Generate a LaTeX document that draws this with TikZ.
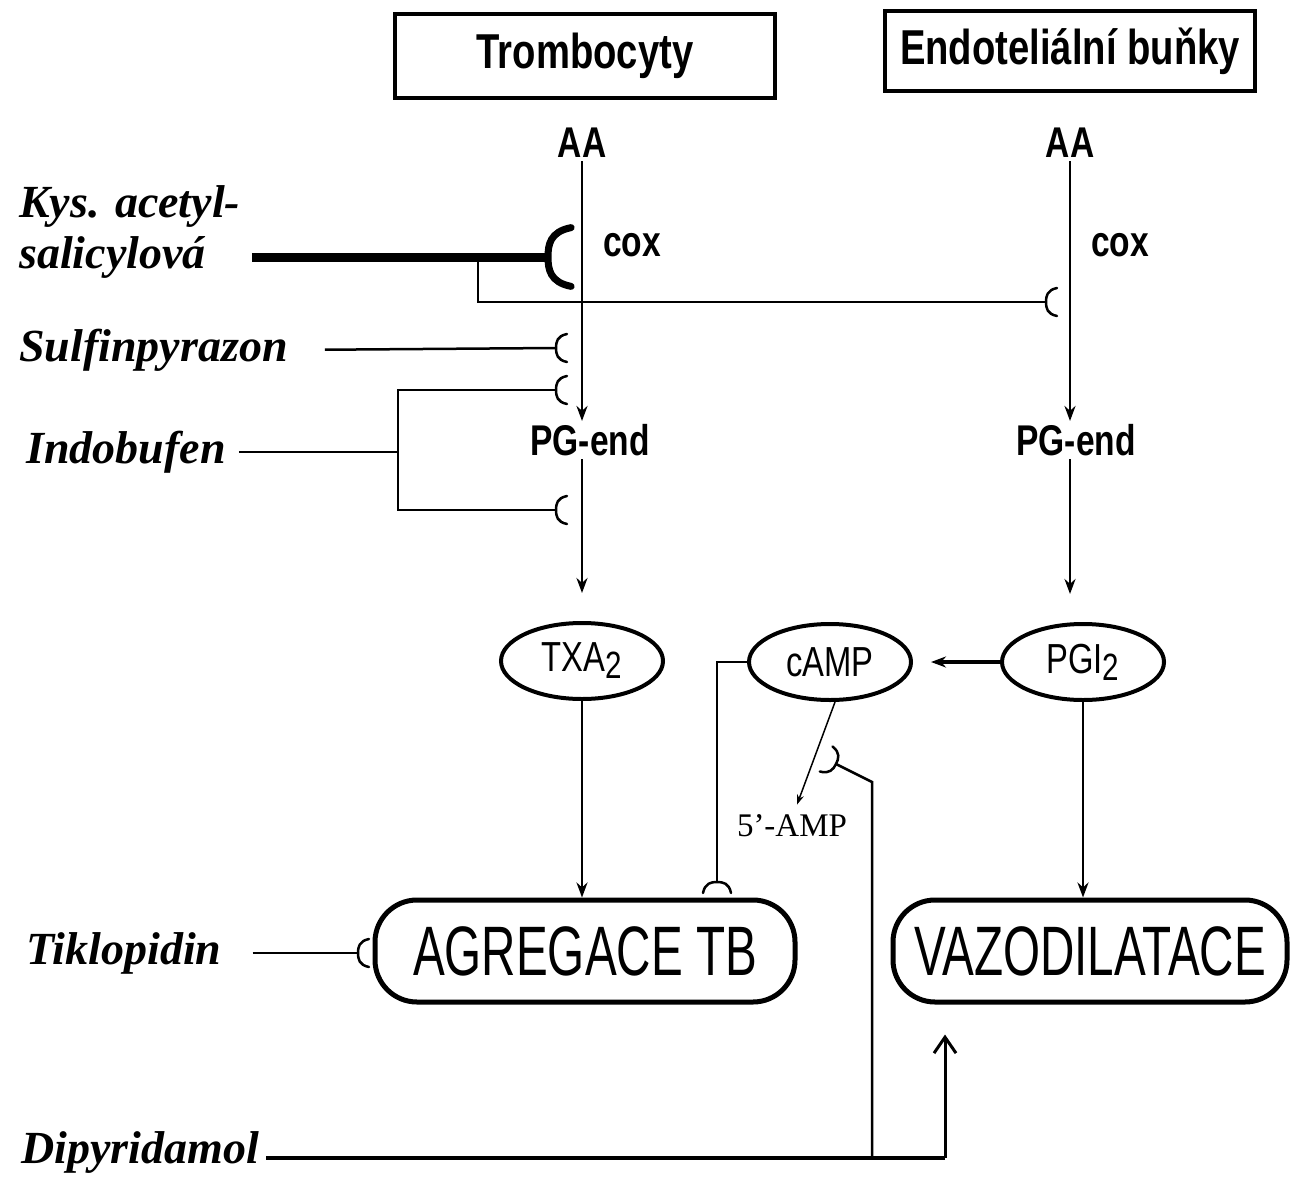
\documentclass[tikz,border=0pt]{standalone}
\usepackage{fontspec}
\setmainfont{Liberation Serif}
\newfontfamily\condsans[FakeStretch=0.78]{Liberation Sans}
\newfontfamily\uzsans[FakeStretch=0.68]{Liberation Sans}
\usetikzlibrary{shapes.geometric, arrows.meta}

\begin{document}
\begin{tikzpicture}[x=1pt, y=-1pt, >={Stealth[length=15pt,width=11pt]}, line width=2.5pt,
  lek/.style={anchor=west, inner sep=0pt, font=\fontsize{46}{48}\selectfont\bfseries\itshape},
  bunka/.style={draw, line width=4.5pt, inner sep=0pt, font=\fontsize{49}{50}\condsans\bfseries},
  popis/.style={inner sep=2pt, font=\fontsize{43}{45}\condsans\bfseries},
  latka/.style={ellipse, draw, line width=4pt, minimum width=162pt, minimum height=76pt, inner sep=0pt, font=\fontsize{42}{44}\condsans},
  efekt/.style={draw, rounded corners=42pt, line width=5pt, minimum height=102pt, inner sep=0pt, font=\fontsize{70}{72}\uzsans},
  blok/.pic={\draw[line cap=round] (11,-14) .. controls (1,-12) and (0,-6) .. (0,0) .. controls (0,6) and (1,12) .. (11,14);}
]
  \useasboundingbox (0,0) rectangle (1292,1188);
  % cell headers and pathway labels
  \node[bunka, minimum width=380pt, minimum height=84pt] (trom) at (585,56) {Trombocyty};
  \node[bunka, minimum width=370pt, minimum height=80pt] (endo) at (1070,51) {Endoteliální buňky};
  \node[popis] (aaL) at (582,143) {AA};
  \node[popis] (aaR) at (1070,143) {AA};
  \node[popis] (coxL) at (632,245) {cox};
  \node[popis] (coxR) at (1120,245) {cox};
  \node[popis] (pgL) at (590,440) {PG-end};
  \node[popis] (pgR) at (1076,440) {PG-end};
  \node[latka] (txa) at (582,661) {TXA\raisebox{-7pt}{\fontsize{38}{38}\selectfont 2}};
  \node[latka] (camp) at (830,662) {cAMP};
  \node[latka] (pgi) at (1083,662) {PGI\raisebox{-7pt}{\fontsize{38}{38}\selectfont 2}};
  \node[efekt, minimum width=420pt] (agr) at (585,951) {AGREGACE TB};
  \node[efekt, minimum width=394pt] (vazo) at (1090,951) {VAZODILATACE};
  \node[font=\fontsize{33}{35}\selectfont, inner sep=1pt] (amp) at (792,826) {5'-AMP};
  % drugs
  \node[lek] (kys1) at (18,207) {Kys. acetyl-};
  \node[lek] (kys2) at (18,257) {salicylová};
  \node[lek] (sulf) at (18,350) {Sulfinpyrazon};
  \node[lek] (indo) at (25,452) {Indobufen};
  \node[lek] (tiklo) at (25,953) {Tiklopidin};
  \node[lek] (dipy) at (20,1152) {Dipyridamol};
  % blocker points
  \coordinate (bKys) at (548,257);
  \coordinate (odb) at (478,257);
  \coordinate (bEndo) at (1046,302);
  \coordinate (bSulf) at (556,348);
  \coordinate (vid) at (398,452);
  \coordinate (bInd1) at (556,390);
  \coordinate (bInd2) at (556,510);
  \coordinate (bTik) at (358,953);
  \coordinate (bAgr) at (717,882);
  \coordinate (dipA) at (872,1158);
  \coordinate (dipK) at (872,782);
  \coordinate (bDip) at (836,764);
  \coordinate (dipB) at (945,1158);
  % arachidonic acid cascades
  \draw[->] (aaL.south) -- (aaL |- pgL.north);
  \draw[->, shorten >=28pt] (aaL |- pgL.south) -- (txa.north);
  \draw[->] (txa.south) -- (txa.south |- agr.north);
  \draw[->] (aaR.south) -- (aaR |- pgR.north);
  \draw[->, shorten >=28pt] (aaR |- pgR.south) -- (aaR |- pgi.north);
  \draw[->] (pgi.south) -- (pgi.south |- vazo.north);
  \draw[->, line width=4pt, shorten >=18pt] (pgi.west) -- (camp.east);
  \draw (camp.west) -| (bAgr);
  \pic[rotate=-90] at (bAgr) {blok};
  \draw[->, line width=1.5pt, >={Stealth[length=10pt,width=7pt]}] ([xshift=5pt]camp.south) -- ([xshift=5pt,yshift=8pt]amp.north);
  % inhibitors
  \draw[line width=9pt, shorten <=45pt] (kys2.east) -- (bKys);
  \pic[scale=2.1, line width=7pt] at (bKys) {blok};
  \draw (odb) |- (bEndo);
  \pic at (bEndo) {blok};
  \draw[shorten <=36pt] (sulf.east) -- (bSulf);
  \pic at (bSulf) {blok};
  \draw[shorten <=12pt] (indo.east) -- (vid);
  \draw (bInd1) -| (vid) |- (bInd2);
  \pic at (bInd1) {blok};
  \pic at (bInd2) {blok};
  \draw[shorten <=30pt] (tiklo.east) -- (bTik);
  \pic at (bTik) {blok};
  \draw[line width=4.5pt, shorten <=6pt] (dipy.east |- dipA) -- (dipB);
  \draw (dipA) -- (dipK) -- (bDip);
  \pic[rotate=153] at (bDip) {blok};
  \draw[line width=3pt, -{Straight Barb[length=16pt,width=22pt]}, shorten >=30pt] (dipB) -- (dipB |- vazo.south);
\end{tikzpicture}
\end{document}
